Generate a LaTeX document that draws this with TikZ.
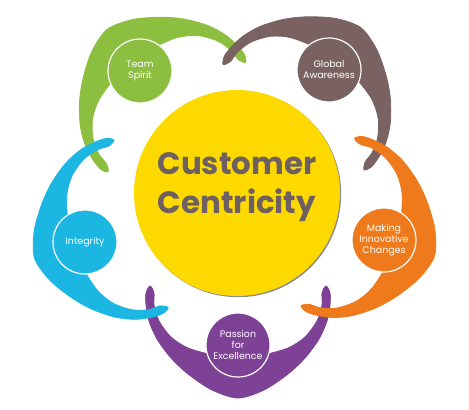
\documentclass[tikz,border=0pt]{standalone}
\usepackage{fontspec}
\setmainfont{Poppins}
\definecolor{cgreen}{HTML}{8CBF3F}
\definecolor{cbrown}{HTML}{7A6262}
\definecolor{cblue}{HTML}{1BB6E1}
\definecolor{corange}{HTML}{EE7A1C}
\definecolor{cpurple}{HTML}{7D4195}
\definecolor{cyellow}{HTML}{FDD900}
\definecolor{ctext}{HTML}{6E5F60}
\tikzset{
  pics/crescent/.style={code={
    \fill[#1, draw=#1, line width=0.8bp, line join=round]
      plot[smooth cycle, tension=0.5] coordinates {
        (-88,59) (-92,52) (-92,40) (-89,24) (-81,6) (-67,-13) (-50,-29)
        (-26,-45) (0,-53) (26,-45) (50,-29) (67,-13) (81,6) (89,24) (92,40)
        (92,52) (88,59) (84,52) (84,40) (79,24) (67,8) (50,-3) (25,-10)
        (0,-14) (-25,-10) (-50,-3) (-67,8) (-79,24) (-84,40) (-84,52)};
  }},
  smallcirc/.style={circle, fill=#1, draw=white, line width=1.2bp,
    minimum size=64bp, inner sep=0pt, text=white, align=center,
    font=\fontsize{9.5}{11}\selectfont},
}
\begin{document}
\begin{tikzpicture}[x=1bp, y=1bp]
\useasboundingbox (0,0) rectangle (469,409);
% crescents (layering as in the reference)
\pic[rotate=218.5] at (140,338) {crescent=cgreen};
\pic[rotate=0] at (238,64) {crescent=cpurple};
\pic[rotate=143.2] at (329,339) {crescent=cbrown};
\pic[rotate=287.9] at (85,167) {crescent=cblue};
\pic[rotate=72.3] at (384,169) {crescent=corange};
% small circles
\node[smallcirc=cgreen] (team) at (140,338) {Team\\Spirit};
\node[smallcirc=cbrown] (global) at (329,339) {Global\\Awareness};
\node[smallcirc=cblue] (integ) at (85,167) {Integrity};
\node[smallcirc=corange] (making) at (384,169) {Making\\Innovative\\Changes};
\node[smallcirc=cpurple] (passion) at (238,64) {Passion\\for\\Excellence};
% central circle
\fill[black!45] (238.2,214.8) circle (103);
\node[circle, fill=cyellow, minimum size=206bp, inner sep=0pt] (center) at (237,216) {};
\node[text=ctext, font=\bfseries\fontsize{31}{38.5}\selectfont, align=center] (title) at (237,222) {Customer\\Centricity};
\end{tikzpicture}
\end{document}
